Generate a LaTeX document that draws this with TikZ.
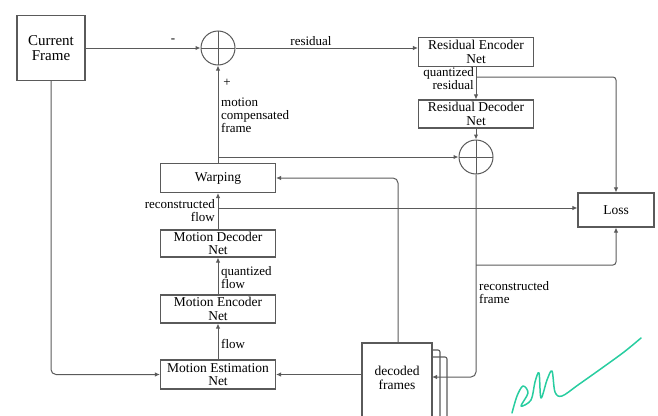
\documentclass[tikz,border=0pt]{standalone}
\usepackage{fontspec}
\setmainfont{Liberation Serif}
\usetikzlibrary{arrows.meta,positioning,calc}
\definecolor{ln}{RGB}{90,90,90}
\definecolor{sig}{RGB}{40,205,160}
\tikzset{
  blk/.style={draw=ln, line width=1.1pt, minimum width=115pt, minimum height=29pt, inner sep=0pt, align=center, font=\fontsize{13.5}{13.5}\selectfont},
  sumnode/.style={draw=ln, line width=1pt, circle, minimum size=34pt, inner sep=0pt,
    path picture={\draw[ln, line width=0.8pt] (path picture bounding box.north) -- (path picture bounding box.south)
      (path picture bounding box.west) -- (path picture bounding box.east);}},
  arr/.style={draw=ln, line width=1pt, -{Latex[length=5pt,width=4.5pt]}},
  lbl/.style={font=\fontsize{13}{13}\selectfont, inner sep=1pt, align=left},
}
\begin{document}
\begin{tikzpicture}[x=1pt,y=-1pt]
\useasboundingbox (0,0) rectangle (658,415);
% nodes
\node[blk, minimum width=68pt, minimum height=65pt, font=\fontsize{15}{15}\selectfont] (cf) at (51,48) {Current\\Frame};
\node[sumnode] (p1) at (218,48) {};
\node[blk] (ren) at (476,52) {Residual Encoder\\Net};
\node[blk, minimum height=28pt] (rdn) at (476,114) {Residual Decoder\\Net};
\node[sumnode] (p2) at (476,157) {};
\node[blk, minimum width=76pt, minimum height=34pt] (loss) at (616,210) {Loss};
\node[blk] (warp) at (218,178) {Warping};
\node[blk, minimum height=27pt] (mdn) at (218,243.5) {Motion Decoder\\Net};
\node[blk, minimum height=28pt] (men) at (218,309) {Motion Encoder\\Net};
\node[blk] (mest) at (218,374.5) {Motion Estimation\\Net};
% decoded frames stack
\draw[ln, line width=1.1pt, rounded corners=2pt] (426,357) -- (447,357) -- (447,430);
\draw[ln, line width=1.1pt, rounded corners=2pt] (426,350) -- (440,350) -- (440,430);
\node[draw=ln, line width=1.1pt, fill=white, minimum width=70pt, minimum height=88pt, inner sep=0pt] (dec) at (397,387) {};
\node[blk, draw=none, minimum width=0pt, minimum height=0pt] (dect) at (397,378) {decoded\\frames};
% coordinates
\coordinate (qr) at (476,77);
\coordinate (mc) at (218,157);
\coordinate (rfl) at (218,208);
\coordinate (rfr) at (476,265);
\coordinate (decin) at (432,377);
% connectors
\draw[arr] (cf.east |- p1) -- (p1.west);
\draw[arr] (p1.east) -- (p1.east -| ren.west);
\draw[arr] (ren.south) -- (rdn.north);
\draw[arr, rounded corners=3pt] (qr) -| (loss.north);
\draw[arr] (rdn.south) -- (p2.north);
\draw[arr] (warp.north) -- (p1.south);
\draw[arr] (mc) -- (p2.west);
\draw[arr, rounded corners=5pt] (p2.south) |- (decin);
\draw[arr, rounded corners=3pt] (rfr) -| (loss.south);
\draw[arr] (rfl) -- (rfl -| loss.west);
\draw[arr, rounded corners=5pt] (dec.north -| 398,0) |- (warp.east);
\draw[arr] (mest.east -| dec.west) -- (mest.east);
\draw[arr, rounded corners=5pt] (cf.south) |- (mest.west);
\draw[arr] (mest.north) -- (men.south);
\draw[arr] (men.north) -- (mdn.south);
\draw[arr] (mdn.north) -- (warp.south);
% labels
\node[lbl] (lminus) at (173,41) {-};
\node[lbl] (lplus) at (227,83) {+};
\node[lbl, anchor=south] (lres) at (311,47) {residual};
\node[lbl, anchor=east, align=right] (lqr) at (475,79) {quantized\\residual};
\node[lbl, anchor=west] (lmc) at (220,115) {motion\\compensated\\frame};
\node[lbl, anchor=east, align=right] (lrf) at (216,211) {reconstructed\\flow};
\node[lbl, anchor=west] (lqf) at (220,278) {quantized\\flow};
\node[lbl, anchor=west] (lfl) at (220,344) {flow};
\node[lbl, anchor=west] (lrfr) at (478,293) {reconstructed\\frame};
% handwritten mark
\draw[sig, line width=1.5pt, line cap=round, line join=round] plot[smooth, tension=0.55] coordinates {(512,413) (517,396) (523,386) (528,393) (521,406) (531,400) (535,382) (539,373) (541,398) (547,380) (552,371) (555,392) (562,396) (578,385) (602,368) (624,352) (641,338)};
\end{tikzpicture}
\end{document}
